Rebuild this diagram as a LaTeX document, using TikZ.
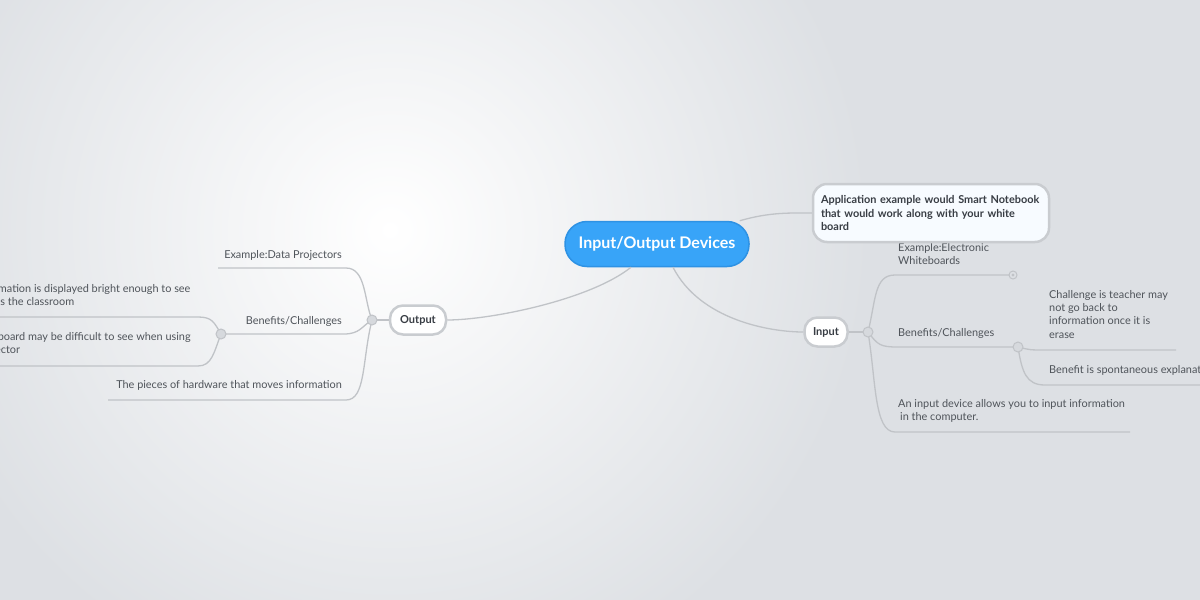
\documentclass[tikz,border=0pt]{standalone}
\usepackage{fontspec}
\setmainfont{Lato}
\definecolor{bg}{HTML}{DDE0E4}
\definecolor{wire}{HTML}{C0C3C7}
\definecolor{rim}{HTML}{C9CCD0}
\definecolor{txt}{HTML}{4F545A}
\definecolor{dark}{HTML}{383D44}
\definecolor{knotfill}{HTML}{D6D9DD}
\definecolor{hub}{HTML}{38A4F8}
\definecolor{hubrim}{HTML}{2E92E4}

\begin{document}
\begin{tikzpicture}[x=1pt,y=-1pt,
    lbl/.style={font=\fontsize{10.9}{13.3}\selectfont, text=txt, inner sep=0pt},
    topic/.style={draw=rim, line width=2.5pt, fill=white, rounded corners=13pt, font=\bfseries\fontsize{11}{13}\selectfont, text=dark, minimum height=29pt},
    link/.style={draw=wire, line width=1.3pt},
    knot/.style={circle, draw=wire, fill=knotfill, line width=1pt, minimum size=10pt, inner sep=0pt}]
  \useasboundingbox (0,0) rectangle (1200,600);
  \clip (0,0) rectangle (1200,600);
  \fill[bg] (0,0) rectangle (1200,600);
  \shade[inner color=white, outer color=bg] (390,230) circle (480);

  % main topics
  \node[draw=hubrim, line width=1.5pt, fill=hub, rounded corners=22pt, minimum width=184pt, minimum height=45pt,
        font=\bfseries\fontsize{16}{19}\selectfont, text=white] (io) at (657,244) {Input/Output Devices};
  \node[topic, minimum width=56pt] (out) at (418,320) {Output};
  \node[topic, minimum width=43pt] (in) at (826,332) {Input};

  \coordinate (jo) at (372,320);
  \coordinate (ji) at (868,332);
  \coordinate (jb) at (221,334);
  \coordinate (jc) at (1018,347);

  \draw[link] (io.south) ++(-26,0) .. controls (590,300) and (490,320) .. (out.east);
  \draw[link] (io.south) ++(16,0) .. controls (700,320) and (770,332) .. (in.west);
  \draw[link] (io.north east) ++(-10,0) .. controls (770,212) and (790,213) .. (813,213);

  % output branch
  \draw[link] (out.west) -- (jo);
  \draw[link] (jo) .. controls (364,300) and (366,268) .. (346,268) -- (218,268);
  \draw[link] (jo) .. controls (362,326) and (360,334) .. (344,334) -- (jb);
  \draw[link] (jo) .. controls (362,360) and (366,400) .. (346,400) -- (108,400);
  \draw[link] (jb) .. controls (214,322) and (212,317) .. (198,317) -- (-5,317);
  \draw[link] (jb) .. controls (214,352) and (212,366) .. (198,366) -- (-5,366);
  \node[knot] (jok) at (jo) {};
  \node[knot] (jbk) at (jb) {};

  \node[lbl, anchor=east] (dp) at (342,255) {Example:Data Projectors};
  \node[lbl, anchor=east] (bco) at (342,321) {Benefits/Challenges};
  \node[lbl, anchor=east] (hw) at (342,385) {The pieces of hardware that moves information};
  \node[lbl, anchor=north west, align=left] (br) at (-25,284) {Information is displayed bright enough to see\\across the classroom};
  \node[lbl, anchor=north west, align=left] (wb) at (-32,332) {Whiteboard may be difficult to see when using\\a projector};

  % input branch
  \draw[link] (in.east) -- (ji);
  \draw[link] (ji) .. controls (876,300) and (874,275) .. (895,275) -- (1013,275);
  \draw[link] (ji) .. controls (878,345) and (880,347) .. (898,347) -- (jc);
  \draw[link] (ji) .. controls (876,380) and (874,432) .. (895,432) -- (1130,432);
  \draw[link] (jc) .. controls (1030,350) .. (1045,350) -- (1176,350);
  \draw[link] (jc) .. controls (1022,372) and (1026,385) .. (1045,385) -- (1205,385);
  \node[knot] (jik) at (ji) {};
  \node[knot] (jck) at (jc) {};
  \node[circle, draw=wire, fill=bg, line width=1pt, minimum size=8pt, inner sep=0pt] (fold) at (1013,275) {};
  \fill[wire] (fold) circle (1.6);

  \node[lbl, anchor=north west, align=left] (ew) at (898,243) {Example:Electronic\\Whiteboards};
  \node[lbl, anchor=west] (bci) at (898,333) {Benefits/Challenges};
  \node[lbl, anchor=north west, align=left] (ch) at (1049,290) {Challenge is teacher may\\not go back to\\information once it is\\erase};
  \node[lbl, anchor=west] (sp) at (1049,370) {Benefit is spontaneous explanation};
  \node[lbl, anchor=north west, align=left] (cp) at (898,399) {An input device allows you to input information\\\hspace{2pt}in the computer.};

  % floating note
  \node[draw=rim, line width=2.5pt, fill=white!96!hub, rounded corners=14pt, minimum width=236pt, minimum height=58pt,
        text width=220pt, align=left, font=\bfseries\fontsize{10.9}{13.8}\selectfont, text=dark] (app) at (931,213)
        {Application example would Smart Notebook\\that would work along with your white\\board};
\end{tikzpicture}
\end{document}
